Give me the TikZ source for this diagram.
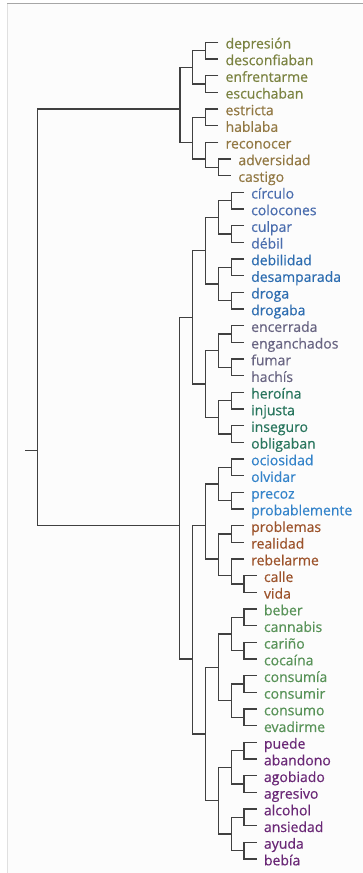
\documentclass[tikz,border=0pt]{standalone}
\usepackage{fontspec}
\setmainfont{Open Sans}[FakeBold=0.5]
\definecolor{cA}{HTML}{7A8240}
\definecolor{cB}{HTML}{927843}
\definecolor{cC}{HTML}{4A6DAE}
\definecolor{cD}{HTML}{2C6CB0}
\definecolor{cE}{HTML}{686482}
\definecolor{cF}{HTML}{28755D}
\definecolor{cG}{HTML}{3383CA}
\definecolor{cH}{HTML}{9C532B}
\definecolor{cI}{HTML}{579257}
\definecolor{cJ}{HTML}{6A2876}
\definecolor{lin}{HTML}{404040}
\newcommand\mkinner[3]{\coordinate (#1) at ({180+12.8*#2},{42.3+16.67*#3});}
\newcommand\mkleaf[4]{%
  \coordinate (t#1) at ({180+12.8*#2},{42.3+16.67*#1});
  \node[leaf,text=#3] (l#1) at ({180+12.8*#2+7},{42.3+16.67*#1+6.2}) {#4};}
\newcommand\mkbr[3]{\draw[tree] (#2) -| (#1) |- (#3);}
\begin{document}
\begin{tikzpicture}[x=1pt,y=-1pt,
  leaf/.style={anchor=base west,inner sep=0pt,font=\fontsize{14}{16}\selectfont},
  tree/.style={draw=lin,line width=1.35pt}]
\useasboundingbox (0,0) rectangle (363,873);
\fill[white] (0,0) rectangle (363,873);
\fill[black!1] (7,3.5) rectangle (363,873);
\draw[black!12,line width=0.8pt] (7,3.5) -- (7,873);
\draw[black!35,line width=1pt] (7,3.5) -- (363,3.5);
% leaves
\mkleaf{0}{3}{cA}{depresión}
\mkleaf{1}{3}{cA}{desconfiaban}
\mkleaf{2}{3}{cA}{enfrentarme}
\mkleaf{3}{3}{cA}{escuchaban}
\mkleaf{4}{3}{cB}{estricta}
\mkleaf{5}{3}{cB}{hablaba}
\mkleaf{6}{3}{cB}{reconocer}
\mkleaf{7}{4}{cB}{adversidad}
\mkleaf{8}{4}{cB}{castigo}
\mkleaf{9}{5}{cC}{círculo}
\mkleaf{10}{5}{cC}{colocones}
\mkleaf{11}{5}{cC}{culpar}
\mkleaf{12}{5}{cC}{débil}
\mkleaf{13}{5}{cD}{debilidad}
\mkleaf{14}{5}{cD}{desamparada}
\mkleaf{15}{5}{cD}{droga}
\mkleaf{16}{5}{cD}{drogaba}
\mkleaf{17}{5}{cE}{encerrada}
\mkleaf{18}{5}{cE}{enganchados}
\mkleaf{19}{5}{cE}{fumar}
\mkleaf{20}{5}{cE}{hachís}
\mkleaf{21}{5}{cF}{heroína}
\mkleaf{22}{5}{cF}{injusta}
\mkleaf{23}{5}{cF}{inseguro}
\mkleaf{24}{5}{cF}{obligaban}
\mkleaf{25}{5}{cG}{ociosidad}
\mkleaf{26}{5}{cG}{olvidar}
\mkleaf{27}{5}{cG}{precoz}
\mkleaf{28}{5}{cG}{probablemente}
\mkleaf{29}{5}{cH}{problemas}
\mkleaf{30}{5}{cH}{realidad}
\mkleaf{31}{5}{cH}{rebelarme}
\mkleaf{32}{6}{cH}{calle}
\mkleaf{33}{6}{cH}{vida}
\mkleaf{34}{6}{cI}{beber}
\mkleaf{35}{6}{cI}{cannabis}
\mkleaf{36}{6}{cI}{cariño}
\mkleaf{37}{6}{cI}{cocaína}
\mkleaf{38}{6}{cI}{consumía}
\mkleaf{39}{6}{cI}{consumir}
\mkleaf{40}{6}{cI}{consumo}
\mkleaf{41}{6}{cI}{evadirme}
\mkleaf{42}{6}{cJ}{puede}
\mkleaf{43}{6}{cJ}{abandono}
\mkleaf{44}{6}{cJ}{agobiado}
\mkleaf{45}{6}{cJ}{agresivo}
\mkleaf{46}{6}{cJ}{alcohol}
\mkleaf{47}{6}{cJ}{ansiedad}
\mkleaf{48}{6}{cJ}{ayuda}
\mkleaf{49}{6}{cJ}{bebía}
% internal nodes
\coordinate (root) at (37.7,{42.3+16.67*24.5});
\coordinate (stub) at (25,{42.3+16.67*24.5});
\mkinner{g1}{0}{4}
\mkinner{a}{1}{1.5}
\mkinner{p01}{2}{0.5}
\mkinner{p23}{2}{2.5}
\mkinner{b}{1}{6}
\mkinner{p45}{2}{4.5}
\mkinner{p68}{2}{7}
\mkinner{p78}{3}{7.5}
\mkinner{g2}{-0.05}{29}
\mkinner{A}{1}{16.5}
\mkinner{A1}{2}{12.5}
\mkinner{q9}{3}{10.5}
\mkinner{q910}{4}{9.5}
\mkinner{q1112}{4}{11.5}
\mkinner{q13}{3}{14.5}
\mkinner{q1314}{4}{13.5}
\mkinner{q1516}{4}{15.5}
\mkinner{A2}{2}{20.5}
\mkinner{q17}{3}{18.5}
\mkinner{q1718}{4}{17.5}
\mkinner{q1920}{4}{19.5}
\mkinner{q21}{3}{22.5}
\mkinner{q2122}{4}{21.5}
\mkinner{q2324}{4}{23.5}
\mkinner{B}{1}{37}
\mkinner{B1}{2}{29}
\mkinner{r25}{3}{26.5}
\mkinner{r2526}{4}{25.5}
\mkinner{r2728}{4}{27.5}
\mkinner{r29}{3}{31}
\mkinner{r2930}{4}{29.5}
\mkinner{r3133}{4}{32}
\mkinner{r3233}{5}{32.5}
\mkinner{B2}{2}{41.5}
\mkinner{s34}{3}{37.5}
\mkinner{s3437}{4}{35.5}
\mkinner{s3435}{5}{34.5}
\mkinner{s3637}{5}{36.5}
\mkinner{s3841}{4}{39.5}
\mkinner{s3839}{5}{38.5}
\mkinner{s4041}{5}{40.5}
\mkinner{s42}{3}{45.5}
\mkinner{s4245}{4}{43.5}
\mkinner{s4243}{5}{42.5}
\mkinner{s4445}{5}{44.5}
\mkinner{s4649}{4}{47.5}
\mkinner{s4647}{5}{46.5}
\mkinner{s4849}{5}{48.5}
% connectors
\draw[tree] (stub) -- (root);
\mkbr{root}{g1}{g2}
\mkbr{g1}{a}{b}
\mkbr{a}{p01}{p23}
\mkbr{p01}{t0}{t1}
\mkbr{p23}{t2}{t3}
\mkbr{b}{p45}{p68}
\mkbr{p45}{t4}{t5}
\mkbr{p68}{t6}{p78}
\mkbr{p78}{t7}{t8}
\mkbr{g2}{A}{B}
\mkbr{A}{A1}{A2}
\mkbr{A1}{q9}{q13}
\mkbr{q9}{q910}{q1112}
\mkbr{q910}{t9}{t10}
\mkbr{q1112}{t11}{t12}
\mkbr{q13}{q1314}{q1516}
\mkbr{q1314}{t13}{t14}
\mkbr{q1516}{t15}{t16}
\mkbr{A2}{q17}{q21}
\mkbr{q17}{q1718}{q1920}
\mkbr{q1718}{t17}{t18}
\mkbr{q1920}{t19}{t20}
\mkbr{q21}{q2122}{q2324}
\mkbr{q2122}{t21}{t22}
\mkbr{q2324}{t23}{t24}
\mkbr{B}{B1}{B2}
\mkbr{B1}{r25}{r29}
\mkbr{r25}{r2526}{r2728}
\mkbr{r2526}{t25}{t26}
\mkbr{r2728}{t27}{t28}
\mkbr{r29}{r2930}{r3133}
\mkbr{r2930}{t29}{t30}
\mkbr{r3133}{t31}{r3233}
\mkbr{r3233}{t32}{t33}
\mkbr{B2}{s34}{s42}
\mkbr{s34}{s3437}{s3841}
\mkbr{s3437}{s3435}{s3637}
\mkbr{s3435}{t34}{t35}
\mkbr{s3637}{t36}{t37}
\mkbr{s3841}{s3839}{s4041}
\mkbr{s3839}{t38}{t39}
\mkbr{s4041}{t40}{t41}
\mkbr{s42}{s4245}{s4649}
\mkbr{s4245}{s4243}{s4445}
\mkbr{s4243}{t42}{t43}
\mkbr{s4445}{t44}{t45}
\mkbr{s4649}{s4647}{s4849}
\mkbr{s4647}{t46}{t47}
\mkbr{s4849}{t48}{t49}
\end{tikzpicture}
\end{document}
